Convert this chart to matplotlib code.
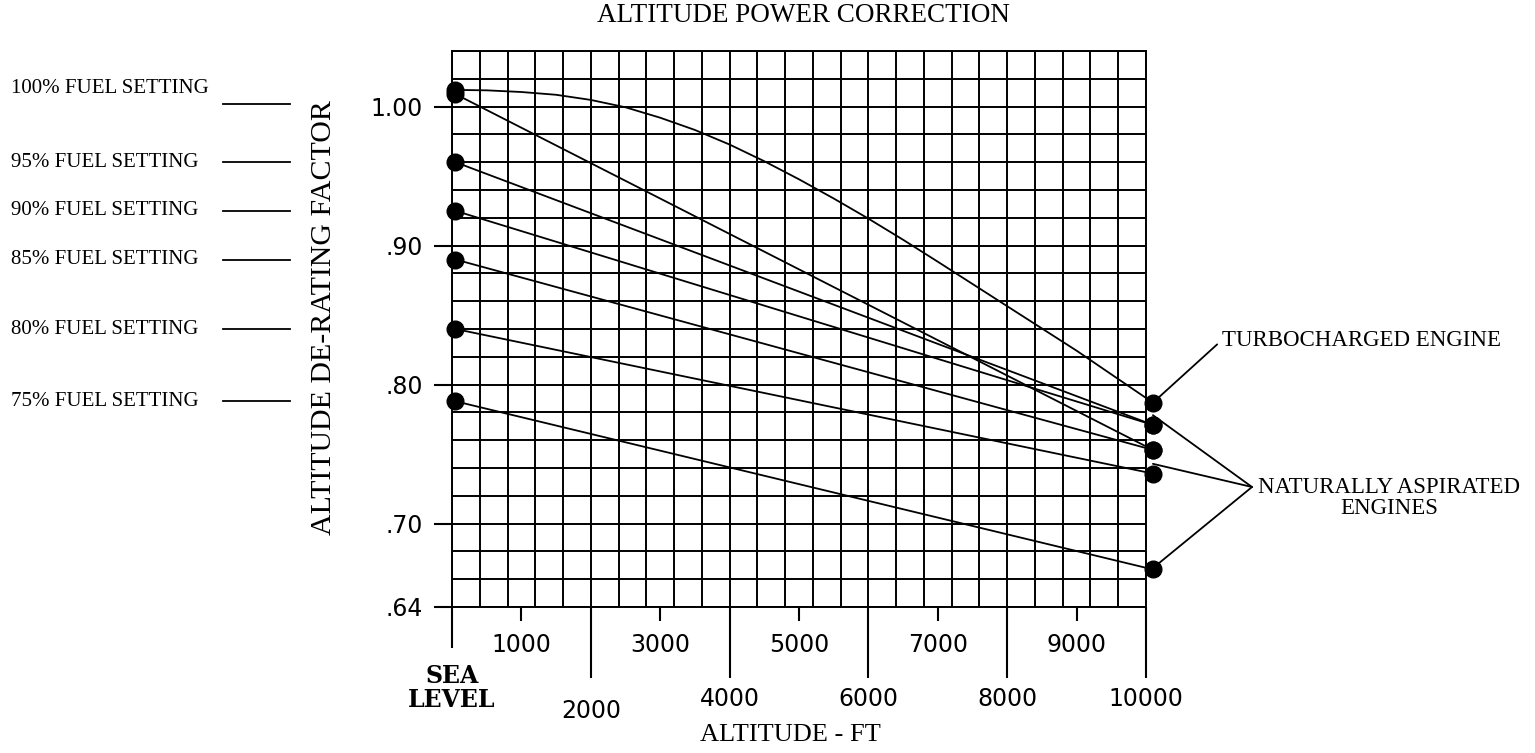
import numpy as np
import matplotlib.pyplot as plt
import matplotlib.transforms as mtransforms

# altitude (ft) where the end dots sit
alt_ends = [50, 10100]

fuel_labels = ['100% FUEL SETTING', '95% FUEL SETTING', '90% FUEL SETTING',
               '85% FUEL SETTING', '80% FUEL SETTING', '75% FUEL SETTING']
na_start = [1.009, 0.960, 0.925, 0.890, 0.840, 0.788]
na_end = [0.753, 0.771, 0.771, 0.753, 0.736, 0.667]

# turbocharged engine curve
turbo_alt = [50, 500, 1000, 1500, 2000, 2500, 3000, 3500, 4000, 4500,
             5000, 5500, 6000, 6500, 7000, 7500, 8000, 9000, 10100]
turbo_factor = [1.012, 1.0117, 1.0105, 1.0085, 1.0048, 0.9995, 0.992, 0.9832,
                0.9727, 0.9607, 0.9477, 0.9339, 0.9194, 0.9042, 0.8884, 0.8724,
                0.8564, 0.8244, 0.787]

ytick_vals = [1.00, 0.90, 0.80, 0.70, 0.64]
ytick_labels = ['1.00', '.90', '.80', '.70', '.64']
odd_alt = [1000, 3000, 5000, 7000, 9000]
even_alt = [2000, 4000, 6000, 8000, 10000]

# where the "naturally aspirated" leader lines end
na_pointer_y = [0.778, 0.743, 0.668]

SERIF = 'Liberation Serif'


def main():
    fig = plt.figure(figsize=(15.35, 7.53), dpi=100)
    ax = fig.add_axes([452 / 1535, 146 / 753, 694 / 1535, 556 / 753])
    ax.set_xlim(0, 10000)
    ax.set_ylim(0.64, 1.04)

    # graph paper grid
    ax.set_xticks(np.arange(0, 10001, 400), minor=True)
    ax.set_yticks(np.arange(0.64, 1.0401, 0.02), minor=True)
    ax.set_xticks([])
    ax.set_yticks(ytick_vals)
    ax.grid(which='both', color='black', lw=1.4)
    ax.tick_params(which='minor', length=0)
    for s in ax.spines.values():
        s.set_linewidth(1.4)

    ax.set_yticklabels(ytick_labels, fontsize=17, family='DejaVu Sans')
    ax.tick_params(axis='y', which='major', length=13, width=1.5, pad=8)

    # altitude ticks and labels under the grid
    xt = ax.get_xaxis_transform()
    ax.vlines(odd_alt, -0.025, 0, transform=xt, color='black', lw=1.5, clip_on=False)
    ax.vlines(even_alt, -0.127, 0, transform=xt, color='black', lw=1.5, clip_on=False)
    ax.vlines([0], -0.074, 0, transform=xt, color='black', lw=1.5, clip_on=False)
    for a in odd_alt:
        ax.text(a, -0.068, str(a), transform=xt, ha='center', va='center',
                fontsize=17, family='DejaVu Sans')
    for a in even_alt:
        yy = -0.187 if a == 2000 else -0.165
        ax.text(a, yy, str(a), transform=xt, ha='center', va='center',
                fontsize=17, family='DejaVu Sans')
    ax.text(0, -0.146, 'SEA\nLEVEL', transform=xt, ha='center', va='center',
            fontsize=17, family='DejaVu Serif', weight='bold', linespacing=1.0)

    # curves
    for y0, y1 in zip(na_start, na_end):
        ax.plot(alt_ends, [y0, y1], color='black', lw=1.3, zorder=4, clip_on=False)
        ax.plot(alt_ends, [y0, y1], 'o', color='black', ms=12, zorder=5, clip_on=False)
    ax.plot(turbo_alt, turbo_factor, color='black', lw=1.3, zorder=4, clip_on=False)
    ax.plot([turbo_alt[0], turbo_alt[-1]], [turbo_factor[0], turbo_factor[-1]], 'o',
            color='black', ms=12, zorder=5, clip_on=False)

    # fuel setting labels on the left
    tr = mtransforms.blended_transform_factory(fig.transFigure, ax.transData)
    for i, (lab, y) in enumerate(zip(fuel_labels, na_start)):
        ty, ly = (1.013, 1.002) if i == 0 else (y, y)
        fig.text(11 / 1535, ty, lab, transform=tr, ha='left', va='center',
                 fontsize=15, family=SERIF)
        ax.plot([223 / 1535, 290 / 1535], [ly, ly], transform=tr, color='black',
                lw=1.3, clip_on=False)

    ax.set_ylabel('ALTITUDE DE-RATING FACTOR', fontsize=21.5, family=SERIF)
    ax.yaxis.set_label_coords(-0.166, 0.52)
    fig.text(790 / 1535, 1 - 735 / 753, 'ALTITUDE - FT', ha='center', va='center',
             fontsize=19, family=SERIF)
    fig.text(803 / 1535, 1 - 15 / 753, 'ALTITUDE POWER CORRECTION', ha='center',
             va='center', fontsize=19.5, family=SERIF)

    # right hand callouts
    ax.annotate('TURBOCHARGED ENGINE', xy=(turbo_alt[-1], turbo_factor[-1]),
                xytext=(1222 / 1535, 1 - 340 / 753), textcoords='figure fraction',
                ha='left', va='center', fontsize=16.5, family=SERIF,
                annotation_clip=False,
                arrowprops=dict(arrowstyle='-', color='black', lw=1.3,
                                relpos=(0, 0.5), shrinkA=2, shrinkB=0))
    fig.text(1389 / 1535, 1 - 498 / 753, 'NATURALLY ASPIRATED\nENGINES', ha='center',
             va='center', fontsize=16.5, family=SERIF, multialignment='center',
             linespacing=1.05)
    for py in na_pointer_y:
        ax.annotate('', xy=(alt_ends[1], py), xytext=(1252 / 1535, 1 - 487 / 753),
                    textcoords='figure fraction', annotation_clip=False,
                    arrowprops=dict(arrowstyle='-', color='black', lw=1.3,
                                    shrinkA=0, shrinkB=0))

    plt.savefig('out.png', dpi=100)


if __name__ == "__main__":
    main()
